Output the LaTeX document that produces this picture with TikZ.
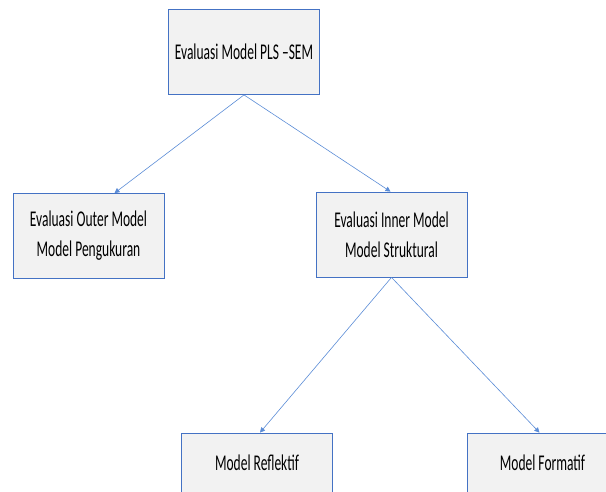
\documentclass[tikz,border=0pt]{standalone}
\usepackage{fontspec}
\setmainfont{Carlito}[FakeStretch=0.6]
\usetikzlibrary{arrows.meta, positioning, shapes}
\definecolor{boxblue}{RGB}{68,114,196}
\definecolor{lineblue}{RGB}{91,140,214}
\definecolor{boxgray}{RGB}{242,242,242}
\tikzset{
        x=1pt, y=-1pt, % picture units in pt, y going down
        pbox/.style={draw=boxblue, thick, fill=boxgray, align=center,
            minimum width=151pt, minimum height=85pt,
            font=\fontsize{22.5}{30}\selectfont}, % sets properties for each box
        link/.style={lineblue, line width=0.6pt,
            -{Triangle[width=5pt,length=5pt]}}, % the connectors
    }
\begin{document}
\begin{tikzpicture}
    \clip (0,0) rectangle (606,491);
    \node[pbox] (pls) at (244,52) {Evaluasi Model PLS --SEM};
    \node[pbox] (outer) at (88.5,236) {Evaluasi Outer Model\\Model Pengukuran};
    \node[pbox] (inner) at (391.5,234.5) {Evaluasi Inner Model\\Model Struktural};
    \node[pbox, minimum height=60pt] (refl) at (257,463) {Model Reflektif};
    \node[pbox, minimum height=60pt] (form) at (542.5,463) {Model Formatif};
    \draw[link] (pls.south) -- ([xshift=26pt]outer.north);
    \draw[link] (pls.south) -- ([xshift=-1pt]inner.north);
    \draw[link] (inner.south) -- ([xshift=3pt]refl.north);
    \draw[link] (inner.south) -- ([xshift=-3pt]form.north);
\end{tikzpicture}
\end{document}
